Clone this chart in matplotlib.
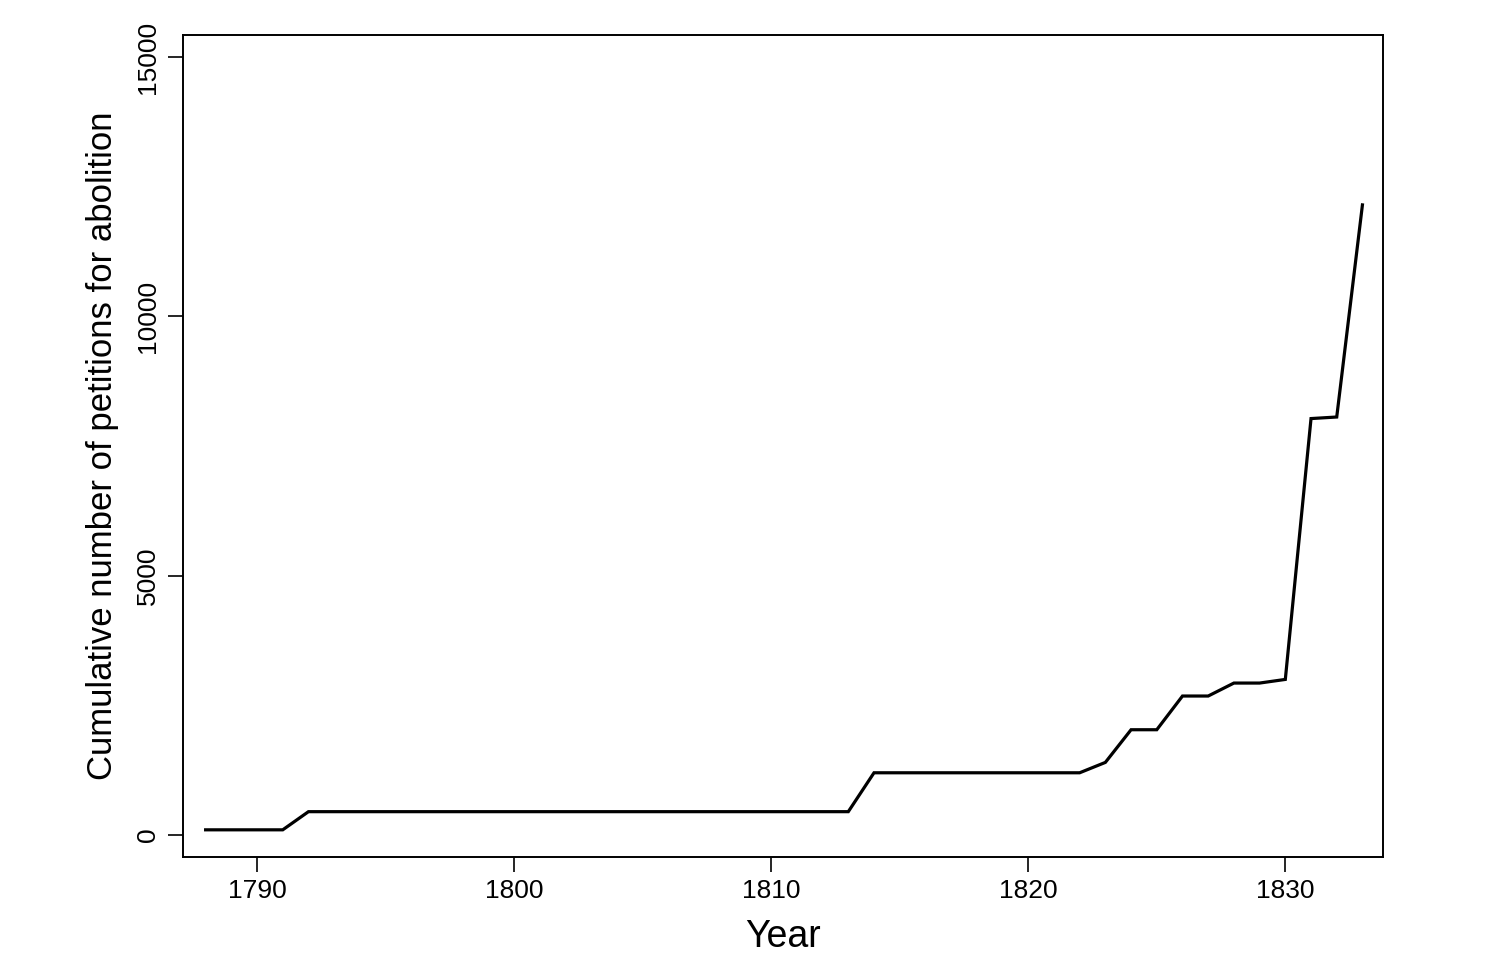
import matplotlib
matplotlib.use('Agg')
import matplotlib.pyplot as plt

# cumulative petitions
years = [1788, 1789, 1790, 1791, 1792, 1793, 1794, 1795, 1796, 1797,
         1798, 1799, 1800, 1801, 1802, 1803, 1804, 1805, 1806, 1807,
         1808, 1809, 1810, 1811, 1812, 1813, 1814, 1815, 1816, 1817,
         1818, 1819, 1820, 1821, 1822, 1823, 1824, 1825, 1826, 1827,
         1828, 1829, 1830, 1831, 1832, 1833]
petitions = [100, 100, 100, 100, 450, 450, 450, 450, 450, 450,
             450, 450, 450, 450, 450, 450, 450, 450, 450, 450,
             450, 450, 450, 450, 450, 450, 1200, 1200, 1200, 1200,
             1200, 1200, 1200, 1200, 1200, 1400, 2030, 2030, 2680, 2680,
             2930, 2930, 3000, 8030, 8060, 12150]

x_ticks = [1790, 1800, 1810, 1820, 1830]
y_ticks = [0, 5000, 10000, 15000]

plt.rcParams['font.family'] = ['Liberation Sans', 'DejaVu Sans']

fig = plt.figure(figsize=(14.92, 9.74), dpi=100)
ax = fig.add_axes([183 / 1492, 117 / 974, 1200 / 1492, 822 / 974])

ax.plot(years, petitions, color='black', linewidth=2.3, solid_joinstyle='miter')

ax.set_xlim(1787.12, 1833.8)
ax.set_ylim(-424, 15426)

ax.set_xticks(x_ticks)
ax.set_xticklabels([str(t) for t in x_ticks])
ax.set_yticks(y_ticks)
ax.set_yticklabels([str(t) for t in y_ticks], rotation=90, va='center')

ax.tick_params(axis='both', direction='out', length=10.5, width=1.2, labelsize=19)
ax.tick_params(axis='x', pad=5)
ax.tick_params(axis='y', pad=6)
for s in ax.spines.values():
    s.set_linewidth(1.4)

ax.set_xlabel('Year', fontsize=27, labelpad=12)
ax.set_ylabel('Cumulative number of petitions for abolition', fontsize=25, labelpad=12)

fig.savefig('out.png', dpi=100)
